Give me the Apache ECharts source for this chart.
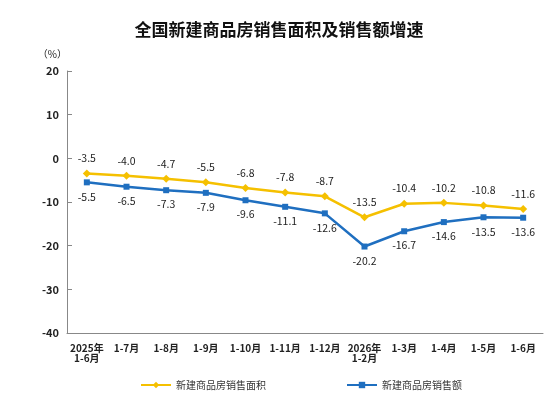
<!DOCTYPE html>
<html><head><meta charset="utf-8">
<script src="https://cdn.jsdelivr.net/npm/echarts@6/dist/echarts.min.js"></script>
<style>html,body{margin:0;padding:0;background:#fff}#c{width:558px;height:407px}</style>
</head><body><div id="c"></div>
<script>
const categories = ["2025年\n1-6月", "1-7月", "1-8月", "1-9月", "1-10月", "1-11月", "1-12月", "2026年\n1-2月", "1-3月", "1-4月", "1-5月", "1-6月"];
const areaGrowth = [-3.5, -4.0, -4.7, -5.5, -6.8, -7.8, -8.7, -13.5, -10.4, -10.2, -10.8, -11.6];
const salesGrowth = [-5.5, -6.5, -7.3, -7.9, -9.6, -11.1, -12.6, -20.2, -16.7, -14.6, -13.5, -13.6];

const font = "Noto Sans CJK SC";
const fmt = p => p.value.toFixed(1);
const chart = echarts.init(document.getElementById("c"));
chart.setOption({
    animation: false,
    textStyle: { fontFamily: font },
    title: {
        text: "全国新建商品房销售面积及销售额增速",
        left: "center", top: 16,
        textStyle: { fontSize: 17, fontWeight: "bold", color: "#111", fontFamily: font }
    },
    grid: { left: 67, right: 15, top: 71, bottom: 74 },
    legend: {
        bottom: 12, left: 135, itemGap: 80, itemWidth: 30, itemHeight: 8,
        textStyle: { fontSize: 10, color: "#333" },
        data: ["新建商品房销售面积", "新建商品房销售额"]
    },
    xAxis: {
        type: "category", data: categories, boundaryGap: true,
        axisLine: { onZero: false, lineStyle: { color: "#888" } },
        axisTick: { show: false },
        axisLabel: { interval: 0, color: "#222", fontSize: 10, fontWeight: "bold", margin: 10 }
    },
    yAxis: {
        type: "value", min: -40, max: 20, interval: 10,
        name: "（%）", nameLocation: "end", nameGap: 12,
        nameTextStyle: { color: "#222", fontSize: 10, align: "right" },
        axisLine: { show: true, lineStyle: { color: "#888" } },
        axisTick: { show: true, inside: true, lineStyle: { color: "#888" } },
        splitLine: { show: false },
        axisLabel: { color: "#222", fontSize: 11, fontWeight: "bold" }
    },
    series: [
        {
            name: "新建商品房销售面积", type: "line", data: areaGrowth,
            symbol: "diamond", symbolSize: 8,
            itemStyle: { color: "#F5C000" }, lineStyle: { width: 2.5, color: "#F5C000" },
            label: { show: true, position: "top", color: "#222", fontSize: 10.5, distance: 6, formatter: fmt }
        },
        {
            name: "新建商品房销售额", type: "line", data: salesGrowth,
            symbol: "rect", symbolSize: 6,
            itemStyle: { color: "#1F6FC0" }, lineStyle: { width: 2.5, color: "#1F6FC0" },
            label: { show: true, position: "bottom", color: "#222", fontSize: 10.5, distance: 6, formatter: fmt }
        }
    ]
});
</script></body></html>
